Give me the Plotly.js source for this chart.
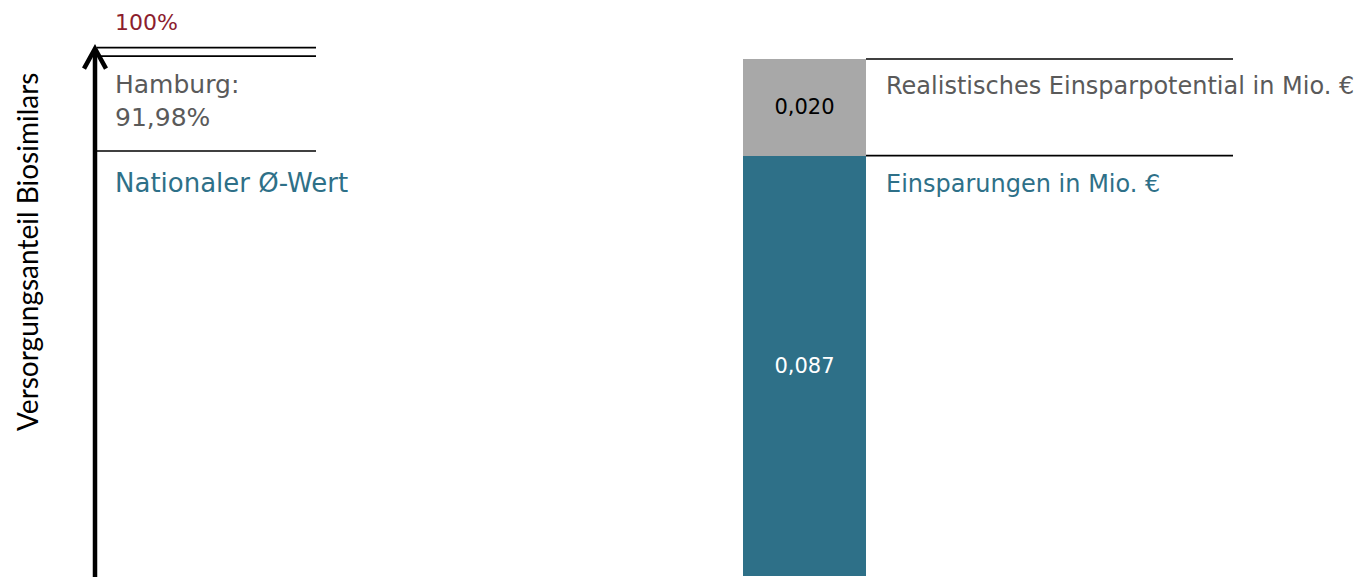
<!DOCTYPE html>
<html><head><meta charset="utf-8">
<script src="https://cdn.plot.ly/plotly-3.0.1.min.js"></script>
<style>html,body{margin:0;padding:0;background:#fff;overflow:hidden;}#chart{width:1361px;height:577px;}</style>
</head><body><div id="chart"></div>
<script>
// ---- data ----
const categories = ["Hamburg"];
const einsparungen = [0.087];            // Einsparungen in Mio. €
const realistischesPotential = [0.020];  // Realistisches Einsparpotential in Mio. €
const einsparLabels = ["0,087"];
const potentialLabels = ["0,020"];
const shareMax = 100;                    // 100 %
const shareHamburg = 91.98;              // Hamburg: 91,98 %
const shareMaxLabel = "100%";
const shareHamburgLabel = "Hamburg:<br>91,98%";
const nationalLabel = "Nationaler Ø-Wert";
const potentialSeriesName = "Realistisches Einsparpotential in Mio. €";
const einsparSeriesName = "Einsparungen in Mio. €";
const yAxisTitle = "Versorgungsanteil Biosimilars";

// ---- style ----
const W = 1361, H = 577;
const px = v => v / W;
const py = v => 1 - v / H;
const BLUE = "#2E7088", GREY_BAR = "#A8A8A8", RED = "#8C1D2E", GREY_TXT = "#5A5A5A";
const FONT = "DejaVu Sans";

const traces = [
  { type: "bar", x: categories, y: einsparungen, xaxis: "x2", yaxis: "y2",
    name: einsparSeriesName, marker: { color: BLUE, line: { width: 0 } },
    text: einsparLabels, texttemplate: "%{text}", textposition: "inside", insidetextanchor: "middle",
    textangle: 0, textfont: { family: FONT, size: 21, color: "#FFFFFF" }, hoverinfo: "skip" },
  { type: "bar", x: categories, y: realistischesPotential, xaxis: "x2", yaxis: "y2",
    name: potentialSeriesName, marker: { color: GREY_BAR, line: { width: 0 } },
    text: potentialLabels, texttemplate: "%{text}", textposition: "inside", insidetextanchor: "middle",
    textangle: 0, textfont: { family: FONT, size: 21, color: "#000000" }, hoverinfo: "skip" },
  { type: "scatter", x: [0.5], y: [shareHamburg], mode: "markers", marker: { opacity: 0 },
    hoverinfo: "skip", showlegend: false }
];

const totalBar = einsparungen[0] + realistischesPotential[0];
const lineL = { x0: px(97), x1: px(316) };
const lineR = { x0: px(866), x1: px(1233) };
const arrowX = px(95);

const shapes = [
  // left: 100% double line and Hamburg line
  { type: "line", xref: "paper", yref: "y", x0: lineL.x0, x1: lineL.x1, y0: shareMax, y1: shareMax,
    line: { color: "#000", width: 1.6 } },
  { type: "line", xref: "paper", yref: "y", ysizemode: "pixel", yanchor: shareMax,
    x0: lineL.x0, x1: lineL.x1, y0: -8.5, y1: -8.5, line: { color: "#000", width: 1.6 } },
  { type: "line", xref: "paper", yref: "y", x0: lineL.x0, x1: lineL.x1, y0: shareHamburg, y1: shareHamburg,
    line: { color: "#000", width: 1.6 } },
  // arrow shaft
  { type: "line", xref: "paper", yref: "paper", x0: arrowX, x1: arrowX, y0: 0, y1: py(50),
    line: { color: "#000", width: 4.5 } },
  // arrow head
  { type: "path", xref: "paper", yref: "y", xsizemode: "pixel", ysizemode: "pixel",
    xanchor: arrowX, yanchor: shareMax, path: "M-11,-21 L0,-1 L11,-21",
    line: { color: "#000", width: 4.5 }, fillcolor: "rgba(0,0,0,0)" },
  // right: lines next to bar
  { type: "line", xref: "paper", yref: "y2", x0: lineR.x0, x1: lineR.x1, y0: totalBar, y1: totalBar,
    line: { color: "#000", width: 1.6 } },
  { type: "line", xref: "paper", yref: "y2", x0: lineR.x0, x1: lineR.x1, y0: einsparungen[0], y1: einsparungen[0],
    line: { color: "#000", width: 1.6 } }
];

const ann = (text, x, y, color, size, extra) => Object.assign({
  text, x, y, xref: "paper", yref: "paper", xanchor: "left", yanchor: "middle",
  showarrow: false, align: "left", font: { family: FONT, size, color }
}, extra || {});

const annotations = [
  ann(yAxisTitle, px(27), py(252), "#000", 28, { xanchor: "center", textangle: -90, font: { family: "Lato", size: 28, color: "#000" } }),
  ann(shareMaxLabel, px(113), py(22), RED, 22),
  ann(shareHamburgLabel, px(113), py(101), GREY_TXT, 25),
  ann(nationalLabel, px(113), py(183), BLUE, 26),
  ann(potentialSeriesName, px(884), py(86), GREY_TXT, 24),
  ann(einsparSeriesName, px(884), py(184), BLUE, 24)
];

const layout = {
  width: W, height: H,
  margin: { l: 0, r: 0, t: 0, b: 0, pad: 0 },
  paper_bgcolor: "#fff", plot_bgcolor: "rgba(0,0,0,0)",
  showlegend: false, barmode: "stack", bargap: 0,
  xaxis: { domain: [0, 1], range: [0, 1], visible: false, fixedrange: true },
  yaxis: { domain: [0, 1], range: [58.9, 103.7], visible: false, fixedrange: true },
  xaxis2: { domain: [px(743), px(866)], anchor: "y2", type: "category", visible: false, fixedrange: true },
  yaxis2: { domain: [0, 1], anchor: "x2", range: [-0.0002, 0.1192], visible: false, fixedrange: true },
  shapes, annotations
};

Plotly.newPlot("chart", traces, layout, { displayModeBar: false, staticPlot: true });
</script>
</body></html>
